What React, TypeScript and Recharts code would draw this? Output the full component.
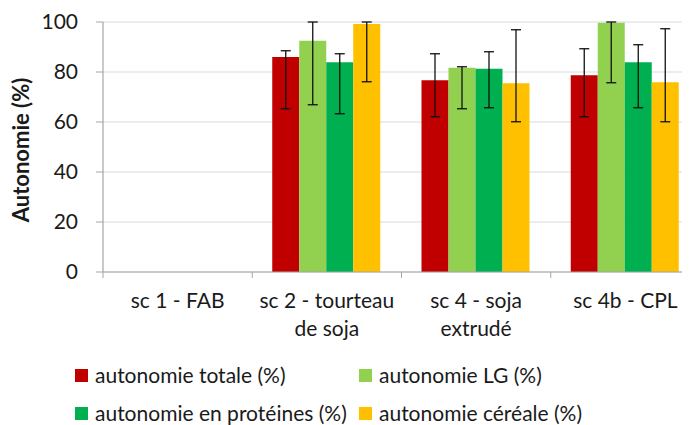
import React from "react";
import { BarChart, Bar, XAxis, YAxis, CartesianGrid, ErrorBar, Legend } from "recharts";

const categories = ["sc 1 - FAB", "sc 2 - tourteau\nde soja", "sc 4 - soja\nextrudé", "sc 4b - CPL"];
const seriesNames = [
  "autonomie totale (%)",
  "autonomie LG (%)",
  "autonomie en protéines (%)",
  "autonomie céréale (%)",
];
const seriesColors = ["#C00000", "#92D050", "#00B050", "#FFC000"];

const totale = [null, 86, 76.7, 78.7];
const totaleLow = [null, 65.3, 62.1, 62.1];
const totaleHigh = [null, 88.5, 87.3, 89.3];

const lg = [null, 92.5, 81.7, 99.7];
const lgLow = [null, 66.9, 65.3, 75.7];
const lgHigh = [null, 100, 82.1, 100];

const proteines = [null, 83.9, 81.3, 83.9];
const proteinesLow = [null, 63.3, 65.7, 65.7];
const proteinesHigh = [null, 87.3, 88.1, 90.9];

const cereale = [null, 99.2, 75.5, 75.9];
const cerealeLow = [null, 76.1, 60.1, 60.1];
const cerealeHigh = [null, 100, 96.9, 97.3];

const yTicks = [0, 20, 40, 60, 80, 100];

const series = [
  { key: "s0", values: totale, low: totaleLow, high: totaleHigh },
  { key: "s1", values: lg, low: lgLow, high: lgHigh },
  { key: "s2", values: proteines, low: proteinesLow, high: proteinesHigh },
  { key: "s3", values: cereale, low: cerealeLow, high: cerealeHigh },
];

const data = categories.map((c, i) => {
  const row: any = { name: c };
  series.forEach((s) => {
    const v = s.values[i];
    row[s.key] = v;
    if (v != null && s.low[i] != null && s.high[i] != null) {
      row[s.key + "err"] = [v - (s.low[i] as number), (s.high[i] as number) - v];
    }
  });
  return row;
});

const FONT = "Lato, 'Liberation Sans', sans-serif";
const TEXT = "#1a1a1a";
const BAND = 597 / 4;

const XTick = (props: any) => {
  const { x, y, payload } = props;
  const lines = String(payload.value).split("\n");
  return (
    <g>
      <line x1={x - BAND / 2} x2={x - BAND / 2} y1={y} y2={y + 6} stroke="#a6a6a6" strokeWidth={1} />
      <text x={x} y={y + 36} textAnchor="middle" fontFamily={FONT} fontSize={21} fill={TEXT}>
        {lines.map((l, i) => (
          <tspan key={i} x={x} dy={i === 0 ? 0 : 28}>
            {l}
          </tspan>
        ))}
      </text>
    </g>
  );
};

const YLabel = (props: any) => {
  const vb = props.viewBox || {};
  const cx = 12;
  const cy = (vb.y || 0) + (vb.height || 0) / 2 + 3;
  return (
    <text
      x={cx}
      y={cy}
      transform={`rotate(-90 ${cx} ${cy})`}
      textAnchor="middle"
      dominantBaseline="central"
      fontFamily={FONT}
      fontSize={22}
      fontWeight={700}
      fill={TEXT}
    >
      Autonomie (%)
    </text>
  );
};

const LegendContent = () => {
  const items = seriesNames.map((n, i) => ({ n, c: seriesColors[i] }));
  const pos = [
    { left: 67, top: 33 },
    { left: 351, top: 33 },
    { left: 67, top: 71 },
    { left: 351, top: 71 },
  ];
  return (
    <div style={{ position: "relative", width: 682, height: 90, fontFamily: FONT, fontSize: 21, color: TEXT }}>
      {items.map((it, i) => (
        <div
          key={i}
          style={{
            position: "absolute",
            left: pos[i].left,
            top: pos[i].top,
            height: 14,
            display: "flex",
            alignItems: "center",
            whiteSpace: "nowrap",
          }}
        >
          <span style={{ display: "inline-block", width: 13, height: 13, background: it.c, marginRight: 7 }} />
          <span style={{ lineHeight: "14px" }}>{it.n}</span>
        </div>
      ))}
    </div>
  );
};

export default function App() {
  return (
    <div style={{ width: 682, height: 417, overflow: "hidden" }}>
      <BarChart
        width={700}
        height={417}
        data={data}
        margin={{ top: 14, right: 8, left: 0, bottom: 0 }}
        barCategoryGap="13.4%"
        barGap={0}
      >
        <CartesianGrid vertical={false} stroke="#d9d9d9" strokeWidth={1.2} />
        <XAxis
          dataKey="name"
          height={63}
          tickSize={0}
          tickMargin={0}
          tickLine={false}
          axisLine={{ stroke: "#a6a6a6", strokeWidth: 1.2 }}
          tick={<XTick />}
          interval={0}
        />
        <YAxis
          width={95}
          domain={[0, 100]}
          ticks={yTicks}
          tickSize={7}
          tickMargin={18}
          axisLine={{ stroke: "#a6a6a6", strokeWidth: 1.2 }}
          tickLine={{ stroke: "#a6a6a6" }}
          tick={{ fontFamily: FONT, fontSize: 21, fill: TEXT }}
          label={<YLabel />}
        />
        <Legend verticalAlign="bottom" content={<LegendContent />} />
        {series.map((s, i) => (
          <Bar key={s.key} dataKey={s.key} name={seriesNames[i]} fill={seriesColors[i]} isAnimationActive={false}>
            <ErrorBar
              dataKey={s.key + "err"}
              width={5}
              stroke="#111"
              strokeWidth={1.3}
              direction="y"
              isAnimationActive={false}
            />
          </Bar>
        ))}
      </BarChart>
    </div>
  );
}
